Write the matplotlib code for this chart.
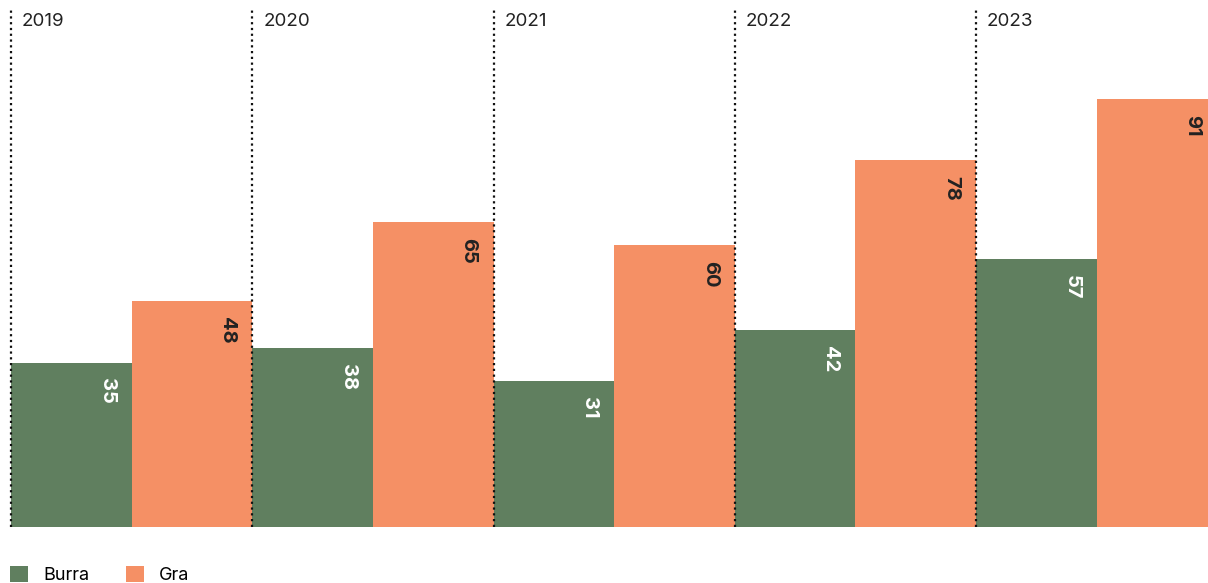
import matplotlib
matplotlib.use("Agg")
import matplotlib.pyplot as plt
from matplotlib.patches import Patch
import numpy as np

years = ["2019", "2020", "2021", "2022", "2023"]
burra = [35, 38, 31, 42, 57]
gra = [48, 65, 60, 78, 91]
series_names = ["Burra", "Gra"]
colors = ["#607F5F", "#F59065"]

plt.rcParams['font.family'] = ['Inter', 'DejaVu Sans']

W, H = 1208, 583
fig = plt.figure(figsize=(W / 100, H / 100), dpi=100)
ax = fig.add_axes([11 / W, (H - 527) / H, (1208 - 11) / W, (527 - 10) / H])

n = len(years)
x = np.arange(n)
bw = 0.5
ax.bar(x, burra, width=bw, align='edge', color=colors[0], linewidth=0)
ax.bar(x + bw, gra, width=bw, align='edge', color=colors[1], linewidth=0)

ax.set_xlim(0, (1208 - 11) / 241.25)
ax.set_ylim(0, 110)
ax.axis('off')

for i, yr in enumerate(years):
    ax.axvline(i, color='#111111', linestyle=(0, (1, 1.6)), linewidth=1.6,
               zorder=3, clip_on=False)
    ax.annotate(yr, xy=(i, 110), xytext=(11, -12), textcoords='offset pixels',
                ha='left', va='center', fontsize=13.5, color='#222222',
                annotation_clip=False)

for i in range(n):
    ax.annotate(str(burra[i]), xy=(i + bw, burra[i]), xytext=(-25, -16),
                textcoords='offset pixels', ha='center', va='top', rotation=-90,
                fontsize=14.5, fontweight='bold', color='white',
                annotation_clip=False)
    ax.annotate(str(gra[i]), xy=(i + 2 * bw, gra[i]), xytext=(-25, -16),
                textcoords='offset pixels', ha='center', va='top', rotation=-90,
                fontsize=14.5, fontweight='bold', color='#222222',
                annotation_clip=False)

handles = [Patch(facecolor=c, edgecolor='none') for c in colors]
fig.legend(handles, series_names, loc='lower left', bbox_to_anchor=(3 / W, -0.014),
           ncol=2, frameon=False, fontsize=13, handlelength=1.0, handleheight=1.0,
           handletextpad=0.85, columnspacing=2.0, borderaxespad=0.0)

fig.savefig("out.png", dpi=100)
